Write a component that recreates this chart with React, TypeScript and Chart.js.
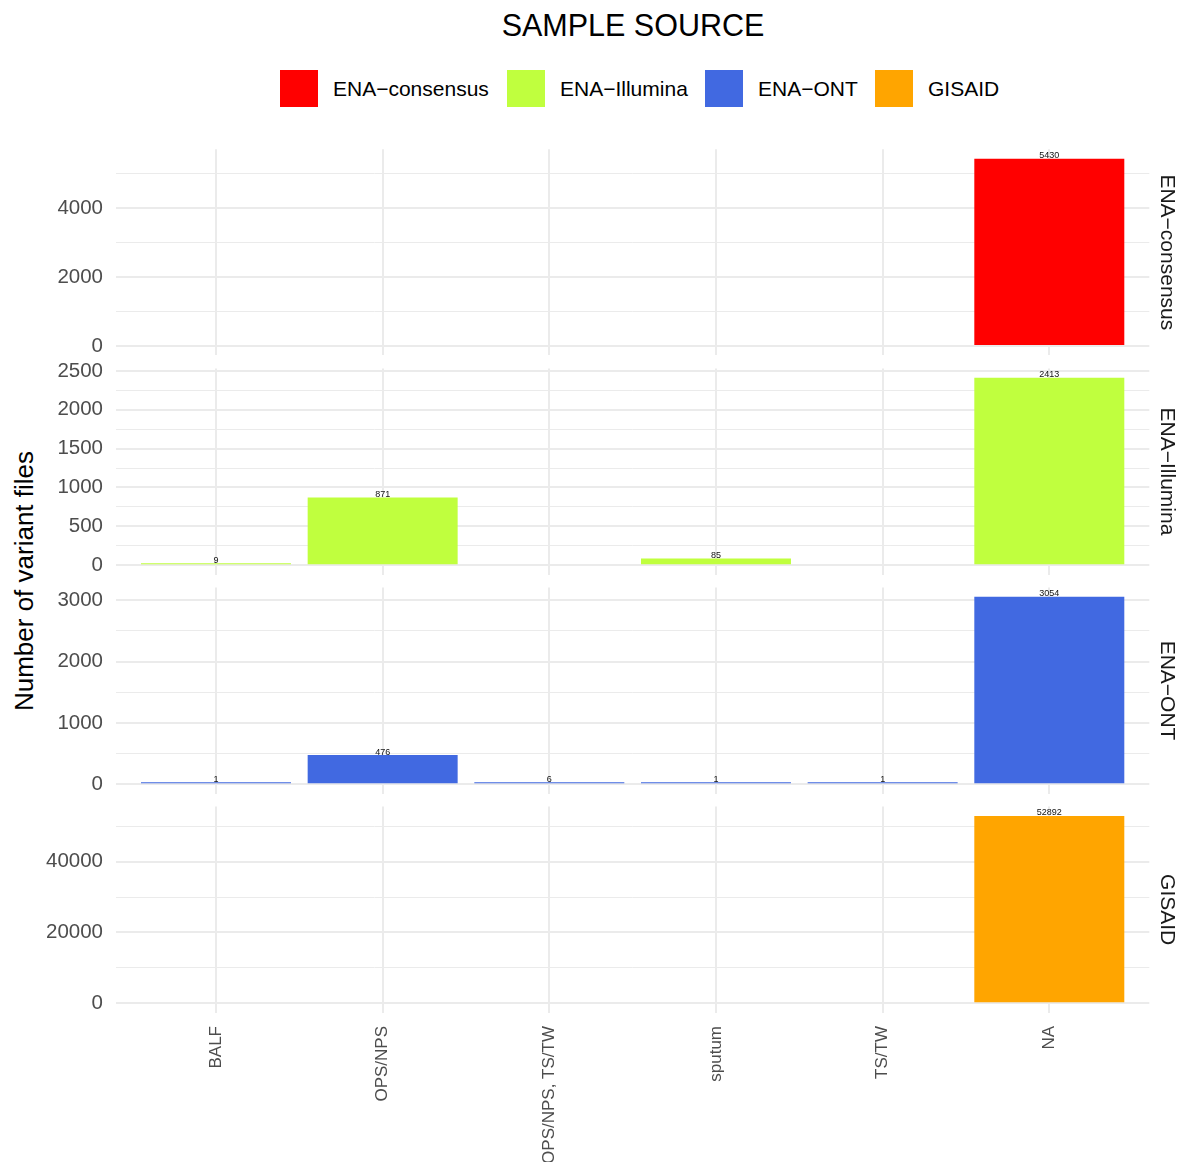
import React, { useEffect, useRef } from 'react';
import { Chart, registerables } from 'chart.js';

Chart.register(...registerables);

// ---------- data ----------
const categories = ['BALF', 'OPS/NPS', 'OPS/NPS, TS/TW', 'sputum', 'TS/TW', 'NA'];
const sources = ['ENA\u2212consensus', 'ENA\u2212Illumina', 'ENA\u2212ONT', 'GISAID'];
const sourceColors = ['#FF0000', '#C0FF3E', '#4169E1', '#FFA500'];

const enaConsensus: (number | null)[] = [null, null, null, null, null, 5430];
const enaIllumina: (number | null)[] = [9, 871, null, 85, null, 2413];
const enaOnt: (number | null)[] = [1, 476, 6, 1, 1, 3054];
const gisaid: (number | null)[] = [null, null, null, null, null, 52892];
const seriesValues = [enaConsensus, enaIllumina, enaOnt, gisaid];

const consensusTicks = [0, 2000, 4000];
const illuminaTicks = [0, 500, 1000, 1500, 2000, 2500];
const ontTicks = [0, 1000, 2000, 3000];
const gisaidTicks = [0, 20000, 40000];
const majorTicks = [consensusTicks, illuminaTicks, ontTicks, gisaidTicks];

const consensusMinor = [1000, 3000, 5000];
const illuminaMinor = [250, 750, 1250, 1750, 2250];
const ontMinor = [500, 1500, 2500];
const gisaidMinor = [10000, 30000, 50000];
const minorTicks = [consensusMinor, illuminaMinor, ontMinor, gisaidMinor];

// ---------- layout ----------
const W = 1187;
const H = 1162;
const PANEL_LEFT = 116;
const PANEL_RIGHT = 1149.3;
const PANEL_TOP0 = 149.3;
const PANEL_H = 206.1;
const PANEL_GAP = 13.0;
const PAD = 40;
const FONT = '"Liberation Sans", Arial, Helvetica, sans-serif';
const GRID = '#EBEBEB';

const barLabelPlugin = {
  id: 'barLabels',
  afterDatasetsDraw(chart: any) {
    const ctx = chart.ctx;
    chart.data.datasets.forEach((ds: any, di: number) => {
      const meta = chart.getDatasetMeta(di);
      meta.data.forEach((el: any, i: number) => {
        const raw = ds.data[i] && ds.data[i].y;
        if (raw === null || raw === undefined || !isFinite(el.x) || !isFinite(el.y)) return;
        ctx.save();
        ctx.font = '9px ' + FONT;
        ctx.fillStyle = '#111111';
        ctx.textAlign = 'center';
        ctx.textBaseline = 'alphabetic';
        ctx.fillText(String(raw), el.x, el.y - 0.5);
        ctx.restore();
      });
    });
  },
};

const stripPlugin = {
  id: 'stripLabel',
  afterDraw(chart: any, _args: any, opts: any) {
    const ctx = chart.ctx;
    const area = chart.chartArea;
    ctx.save();
    ctx.translate(1161, (area.top + area.bottom) / 2);
    ctx.rotate(Math.PI / 2);
    ctx.font = '21px ' + FONT;
    ctx.fillStyle = '#1A1A1A';
    ctx.textAlign = 'center';
    ctx.textBaseline = 'alphabetic';
    ctx.fillText(opts.text, 0, 0);
    ctx.restore();
  },
};

function Panel({ index }: { index: number }) {
  const ref = useRef<HTMLCanvasElement | null>(null);
  const isBottom = index === 3;
  const top = PANEL_TOP0 + index * (PANEL_H + PANEL_GAP);
  const bottom = top + PANEL_H;
  const canvasTop = Math.floor(top - PAD);
  const canvasBottom = isBottom ? H : Math.ceil(bottom + PAD);
  const canvasH = canvasBottom - canvasTop;
  const padTop = top - canvasTop;
  const padBottom = isBottom ? 0 : canvasBottom - bottom;
  const xAxisH = isBottom ? canvasBottom - bottom : 0;

  useEffect(() => {
    if (!ref.current) return;
    const vals = seriesValues[index];
    const maxV = Math.max(...(vals.filter((v) => v !== null) as number[]));
    const yMin = -0.05 * maxV;
    const yMax = 1.05 * maxV;
    const major = majorTicks[index];
    const allTicks = [...major, ...minorTicks[index]].sort((a, b) => a - b);

    const chart = new Chart(ref.current, {
      type: 'bar',
      data: {
        datasets: [
          {
            label: sources[index],
            data: categories.map((_, i) => ({ x: i + 1, y: vals[i] })) as any,
            backgroundColor: sourceColors[index],
            borderWidth: 0,
            barPercentage: 0.9,
            categoryPercentage: 1,
            grouped: false,
            minBarLength: 2,
          } as any,
        ],
      },
      options: {
        responsive: false,
        animation: false,
        devicePixelRatio: 1,
        events: [],
        layout: {
          padding: { left: 0, right: W - PANEL_RIGHT, top: padTop, bottom: padBottom },
        },
        plugins: {
          legend: { display: false },
          tooltip: { enabled: false },
          title: { display: false },
          stripLabel: { text: sources[index] },
        } as any,
        scales: {
          x: {
            type: 'linear',
            min: 0.4,
            max: 6.6,
            offset: false,
            position: 'bottom',
            afterBuildTicks: (s: any) => {
              s.ticks = categories.map((_, i) => ({ value: i + 1 }));
            },
            afterFit: (s: any) => {
              s.height = xAxisH;
            },
            grid: { color: GRID, lineWidth: 2, drawTicks: false, offset: false },
            border: { display: false },
            ticks: {
              display: isBottom,
              autoSkip: false,
              minRotation: 90,
              maxRotation: 90,
              padding: 13.3,
              color: '#4D4D4D',
              font: { family: FONT, size: 17 },
              callback: (v: any) => categories[Math.round(Number(v)) - 1] ?? '',
            },
          },
          y: {
            type: 'linear',
            min: yMin,
            max: yMax,
            position: 'left',
            afterBuildTicks: (s: any) => {
              s.ticks = allTicks.map((v) => ({ value: v }));
            },
            afterFit: (s: any) => {
              s.width = PANEL_LEFT;
            },
            grid: {
              color: GRID,
              lineWidth: (ctx: any) => (ctx.tick && major.includes(ctx.tick.value) ? 2 : 1),
              drawTicks: false,
            },
            border: { display: false },
            ticks: {
              autoSkip: false,
              padding: 13,
              color: '#4D4D4D',
              font: { family: FONT, size: 20.5 },
              callback: (v: any) => (major.includes(Number(v)) ? String(v) : ''),
            },
          },
        } as any,
      },
      plugins: [barLabelPlugin, stripPlugin],
    });
    return () => chart.destroy();
  }, [index]);

  return (
    <canvas
      ref={ref}
      width={W}
      height={canvasH}
      style={{ position: 'absolute', left: 0, top: canvasTop, width: W, height: canvasH, display: 'block' }}
    />
  );
}

const legendBoxX = [280, 507, 705, 875];

export default function App() {
  return (
    <div
      style={{
        position: 'absolute',
        left: 0,
        top: 0,
        width: W,
        height: H,
        background: '#FFFFFF',
        overflow: 'hidden',
        fontFamily: FONT,
      }}
    >
      <div
        style={{
          position: 'absolute',
          left: 633 - 300,
          top: 5.1,
          width: 600,
          height: 40,
          lineHeight: '40px',
          textAlign: 'center',
          fontSize: 30.5,
          color: '#000',
          whiteSpace: 'nowrap',
        }}
      >
        SAMPLE SOURCE
      </div>
      {sources.map((s, i) => (
        <React.Fragment key={s}>
          <div
            style={{
              position: 'absolute',
              left: legendBoxX[i],
              top: 70,
              width: 38,
              height: 37,
              background: sourceColors[i],
            }}
          />
          <div
            style={{
              position: 'absolute',
              left: legendBoxX[i] + 53,
              top: 70,
              height: 37,
              lineHeight: '37px',
              fontSize: 21,
              color: '#000',
              whiteSpace: 'nowrap',
            }}
          >
            {s}
          </div>
        </React.Fragment>
      ))}
      <div
        style={{
          position: 'absolute',
          left: 24.3 - 200,
          top: 581 - 20,
          width: 400,
          height: 40,
          lineHeight: '40px',
          textAlign: 'center',
          fontSize: 26,
          color: '#000',
          whiteSpace: 'nowrap',
          transform: 'rotate(-90deg)',
          transformOrigin: '50% 50%',
        }}
      >
        Number of variant files
      </div>
      {[0, 1, 2, 3].map((i) => (
        <Panel key={i} index={i} />
      ))}
    </div>
  );
}
